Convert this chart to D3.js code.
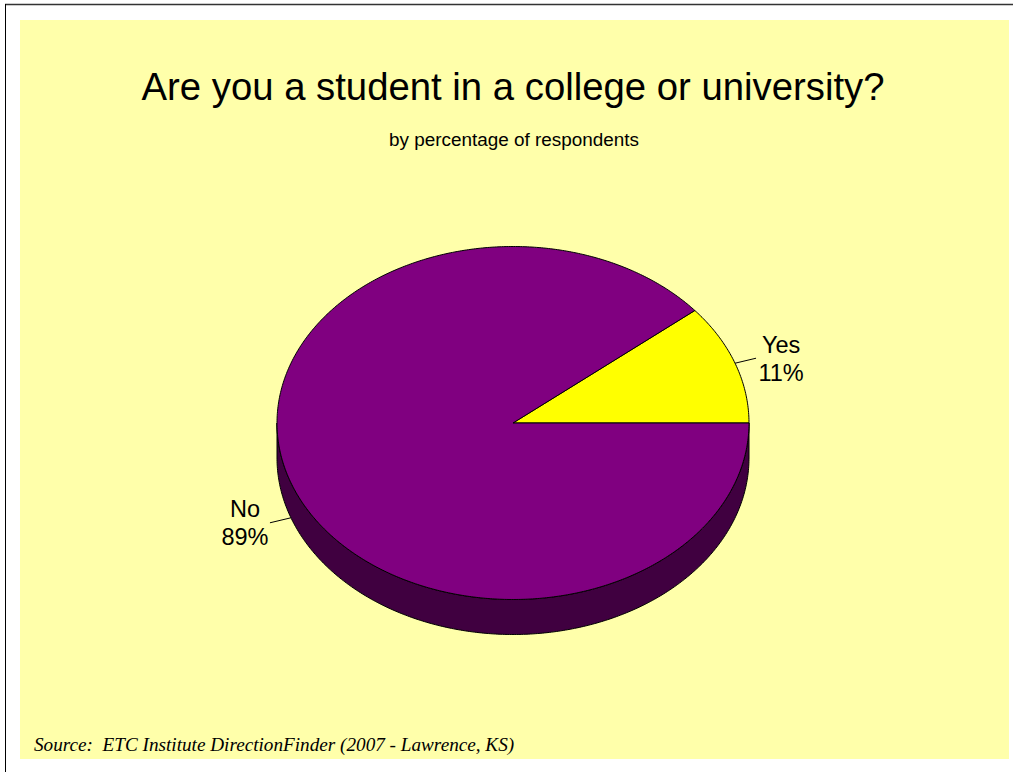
<!DOCTYPE html>
<html>
<head>
<meta charset="utf-8">
<script src="https://cdn.jsdelivr.net/npm/d3@7"></script>
<style>
  html, body { margin: 0; padding: 0; background: #ffffff; }
  svg { display: block; }
  text { white-space: pre; }
</style>
</head>
<body>
<svg id="chart" width="1013" height="772"></svg>
<script>
// Survey answers (percent of respondents)
const categories = ["Yes", "No"];
const values = [11, 89];
const sliceColors = ["#FFFF00", "#800080"];
const sideColors = ["#808000", "#400040"];

const titleText = "Are you a student in a college or university?";
const subtitleText = "by percentage of respondents";
const sourceText = "Source:  ETC Institute DirectionFinder (2007 - Lawrence, KS)";

const W = 1013, H = 772;
const svg = d3.select("#chart");

// frame lines and panel
svg.append("rect").attr("x", 0).attr("y", 0).attr("width", W).attr("height", H).attr("fill", "#ffffff");
svg.append("line").attr("x1", 5).attr("x2", W).attr("y1", 4.5).attr("y2", 4.5)
  .attr("stroke", "#333333").attr("stroke-width", 1.5);
svg.append("line").attr("x1", 5.5).attr("x2", 5.5).attr("y1", 4).attr("y2", H)
  .attr("stroke", "#000000").attr("stroke-width", 1);
svg.append("rect").attr("x", 20).attr("y", 20).attr("width", 989).attr("height", 739)
  .attr("fill", "#FFFFAA");

// titles
svg.append("text").attr("x", 513).attr("y", 100).attr("text-anchor", "middle")
  .attr("font-family", "Liberation Sans, Arial, sans-serif").attr("font-size", 38.3)
  .attr("fill", "#000").text(titleText);
svg.append("text").attr("x", 514).attr("y", 146).attr("text-anchor", "middle")
  .attr("font-family", "Liberation Sans, Arial, sans-serif").attr("font-size", 18.9)
  .attr("fill", "#000").text(subtitleText);
svg.append("text").attr("x", 34).attr("y", 751)
  .attr("font-family", "Liberation Serif, Times New Roman, serif").attr("font-style", "italic")
  .attr("font-size", 19.2).attr("fill", "#000").text(sourceText);

// 3D pie geometry
const cx = 513, cy = 423, rx = 236, ry = 176.5, depth = 35;

// slices start at 3 o'clock and run counter-clockwise
const pie = d3.pie().sort(null).value(d => d)
  .startAngle(Math.PI / 2).endAngle(Math.PI / 2 - 2 * Math.PI);
const arcs = pie(values);

const px = a => cx + rx * Math.sin(a);
const py = a => cy - ry * Math.cos(a);

function arcPoints(a0, a1, dy) {
  const n = Math.max(2, Math.ceil(Math.abs(a1 - a0) / 0.01));
  return d3.range(n + 1).map(i => {
    const a = a0 + (a1 - a0) * i / n;
    return [px(a), py(a) + dy];
  });
}

const line = d3.line();
const g = svg.append("g");

// side walls: only the front half of the rim (angles between pi/2 and 3pi/2, mod 2pi)
arcs.forEach((d, i) => {
  const lo = Math.min(d.startAngle, d.endAngle), hi = Math.max(d.startAngle, d.endAngle);
  for (let k = -2; k <= 1; k++) {
    const f0 = Math.PI / 2 + 2 * Math.PI * k, f1 = 3 * Math.PI / 2 + 2 * Math.PI * k;
    const s = Math.max(lo, f0), e = Math.min(hi, f1);
    if (e > s) {
      const top = arcPoints(s, e, 0);
      const bottom = arcPoints(e, s, depth);
      g.append("path").attr("d", line(top.concat(bottom)) + "Z")
        .attr("fill", sideColors[i]).attr("stroke", "#000").attr("stroke-width", 1)
        .attr("stroke-linejoin", "round");
    }
  }
});

// top faces
arcs.forEach((d, i) => {
  const pts = [[cx, cy]].concat(arcPoints(d.startAngle, d.endAngle, 0));
  g.append("path").attr("d", line(pts) + "Z")
    .attr("fill", sliceColors[i]).attr("stroke", "#000").attr("stroke-width", 1)
    .attr("stroke-linejoin", "miter");
});

// labels with leader lines
arcs.forEach((d, i) => {
  const mid = (d.startAngle + d.endAngle) / 2;
  const front = Math.cos(mid) < 0;
  const ax = px(mid), ay = py(mid) + (front ? depth : 0);
  const dir = Math.sin(mid) >= 0 ? 1 : -1;
  const ex = ax + dir * 21, ey = ay - 5 * (dir > 0 ? 1 : -1);
  svg.append("line").attr("x1", ax).attr("y1", ay).attr("x2", ex).attr("y2", ey)
    .attr("stroke", "#000").attr("stroke-width", 1);
  const tx = ex + dir * 25;
  const ty = dir > 0 ? ey - 5 : ey - 6;
  const t = svg.append("text").attr("text-anchor", "middle")
    .attr("font-family", "Liberation Sans, Arial, sans-serif").attr("font-size", 23.5)
    .attr("fill", "#000");
  t.append("tspan").attr("x", tx).attr("y", ty).text(categories[i]);
  t.append("tspan").attr("x", tx).attr("y", ty + 28).text(values[i] + "%");
});
</script>
</body>
</html>
